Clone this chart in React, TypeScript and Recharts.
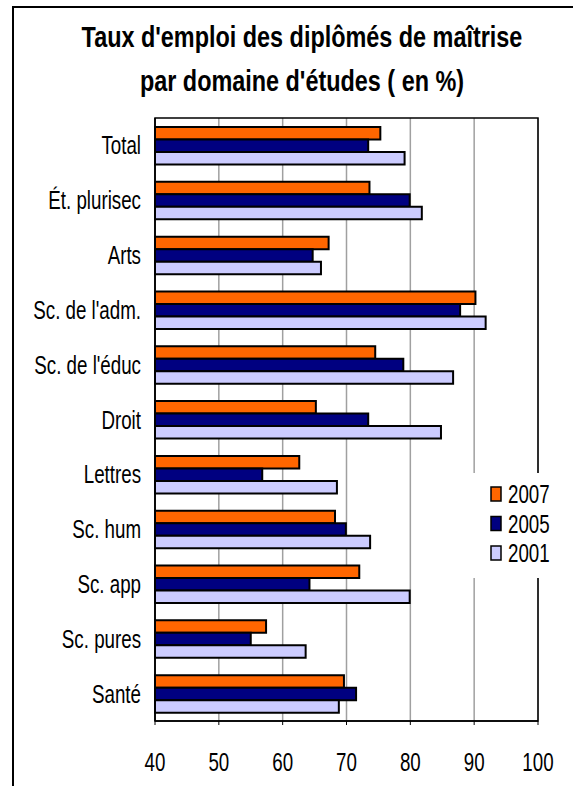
import { Bar, BarChart, CartesianGrid, Legend, ReferenceArea, XAxis, YAxis } from "recharts";

const categories = [
  "Total",
  "Ét. plurisec",
  "Arts",
  "Sc. de l'adm.",
  "Sc. de l'éduc",
  "Droit",
  "Lettres",
  "Sc. hum",
  "Sc. app",
  "Sc. pures",
  "Santé",
];

const values2007 = [75.3, 73.6, 67.2, 90.2, 74.5, 65.2, 62.6, 68.2, 72.0, 57.4, 69.6];
const values2005 = [73.4, 79.9, 64.7, 87.8, 78.9, 73.4, 56.8, 69.9, 64.2, 55.0, 71.5];
const values2001 = [79.1, 81.8, 66.0, 91.8, 86.7, 84.8, 68.5, 73.7, 79.9, 63.6, 68.8];

const xTicks = [40, 50, 60, 70, 80, 90, 100];

const series = [
  { key: "y2007", name: "2007", color: "#FF6600" },
  { key: "y2005", name: "2005", color: "#000080" },
  { key: "y2001", name: "2001", color: "#CCCCFF" },
];

const data = categories.map((name, i) => ({
  name,
  y2007: values2007[i],
  y2005: values2005[i],
  y2001: values2001[i],
}));

// no narrow font installed, so squeeze Liberation Sans horizontally
const FONT = "'Liberation Sans', Arial, sans-serif";
const SQUEEZE = 0.75;

function YTick(props: any) {
  const { x, y, payload } = props;
  return (
    <g transform={`translate(${x},${y}) scale(${SQUEEZE},1)`}>
      <text x={0} y={0} dy="0.36em" textAnchor="end" fill="#000" fontSize={25} fontFamily={FONT}>
        {payload.value}
      </text>
    </g>
  );
}

function XTick(props: any) {
  const { x, y, payload } = props;
  return (
    <g transform={`translate(${x},${y}) scale(${SQUEEZE},1)`}>
      <text x={0} y={0} dy="0.71em" textAnchor="middle" fill="#000" fontSize={25} fontFamily={FONT}>
        {payload.value}
      </text>
    </g>
  );
}

function LegendBox() {
  return (
    <svg width={105} height={105}>
      {series.map((s, i) => {
        const cy = 21 + i * 29.5;
        return (
          <g key={s.key}>
            <rect x={23} y={cy - 7} width={10} height={14} fill={s.color} stroke="#000" strokeWidth={1.5} />
            <g transform={`translate(40,${cy}) scale(${SQUEEZE},1)`}>
              <text x={0} y={0} dy="0.36em" fontSize={25} fontFamily={FONT} fill="#000">
                {s.name}
              </text>
            </g>
          </g>
        );
      })}
    </svg>
  );
}

const titleStyle = {
  position: "absolute" as const,
  left: 0,
  width: 604,
  textAlign: "center" as const,
  fontFamily: FONT,
  fontWeight: "bold" as const,
  fontSize: 30,
  lineHeight: "30px",
  whiteSpace: "nowrap" as const,
  transform: "scaleX(0.78)",
  transformOrigin: "302px 50%",
};

export default function App() {
  return (
    <div
      style={{
        position: "absolute",
        left: 0,
        top: 0,
        width: 573,
        height: 786,
        overflow: "hidden",
        background: "#fff",
      }}
    >
      <div
        style={{
          position: "absolute",
          left: 12,
          top: 6,
          width: 620,
          height: 820,
          borderLeft: "2px solid #000",
          borderTop: "2px solid #000",
        }}
      />
      <div style={{ ...titleStyle, top: 22 }}>Taux d'emploi des diplômés de maîtrise</div>
      <div style={{ ...titleStyle, top: 66 }}>par domaine d'études ( en %)</div>
      <div style={{ position: "absolute", left: 0, top: 0 }}>
        <BarChart
          width={573}
          height={786}
          data={data}
          layout="vertical"
          margin={{ top: 118, right: 35, bottom: 15, left: 10 }}
          barSize={12.5}
          barGap={0}
        >
          <CartesianGrid horizontal={false} stroke="#a0a0a0" strokeWidth={1.5} />
          <XAxis
            type="number"
            domain={[40, 100]}
            ticks={xTicks}
            height={50}
            stroke="#000"
            tickSize={4}
            tickMargin={28}
            tick={<XTick />}
            axisLine={{ stroke: "#000", strokeWidth: 1.5 }}
          />
          <YAxis
            type="category"
            dataKey="name"
            width={145}
            tickLine={false}
            tickSize={6}
            tickMargin={8}
            tick={<YTick />}
            axisLine={{ stroke: "#000", strokeWidth: 1.5 }}
          />
          <ReferenceArea x1={40} x2={100} fill="none" stroke="#000" strokeWidth={1.5} fillOpacity={0} ifOverflow="visible" />
          {series.map((s) => (
            <Bar
              key={s.key}
              dataKey={s.key}
              name={s.name}
              fill={s.color}
              stroke="#000"
              strokeWidth={2}
              isAnimationActive={false}
            />
          ))}
          <Legend
            layout="vertical"
            align="center"
            verticalAlign="middle"
            content={<LegendBox />}
            wrapperStyle={{
              position: "absolute",
              left: 468,
              top: 473,
              width: 105,
              height: 105,
              background: "#fff",
            }}
          />
        </BarChart>
      </div>
    </div>
  );
}
